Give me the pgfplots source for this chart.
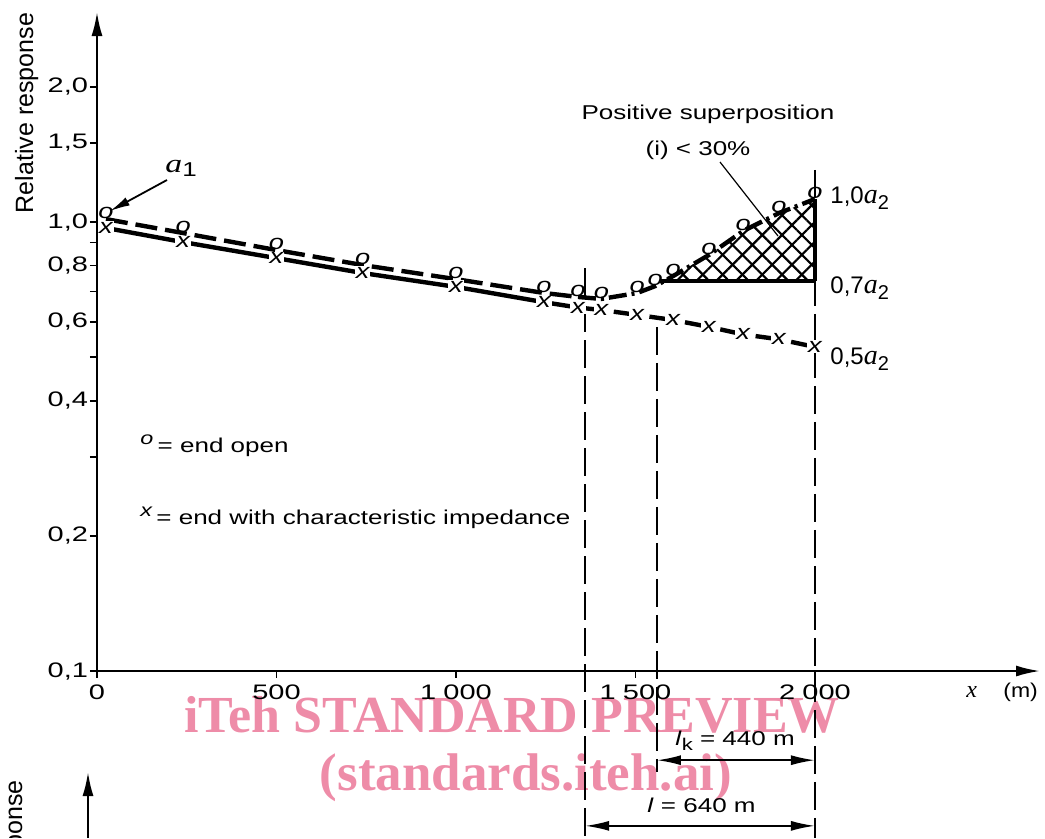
\documentclass[border=0pt]{standalone}
\usepackage{fontspec}
\setmainfont{Liberation Sans}
\newfontfamily\serif{Liberation Serif}
\usepackage{graphicx}
\usepackage{pgfplots}
\pgfplotsset{compat=1.18}
\usepackage{pgfplotstable}
\usetikzlibrary{arrows.meta,patterns.meta}
\definecolor{wm}{RGB}{238,140,168}
\newcommand\W[1]{\scalebox{1.3}[1]{#1}}
\newcommand\WT[1]{\scalebox{1.38}[1]{#1}}

\pgfplotstableread{
x y
25 1.015
240 0.945
500 0.866
740 0.802
1000 0.746
1245 0.695
1340 0.681
1405 0.674
1505 0.695
1555 0.72
1605 0.758
1705 0.845
1800 0.955
1900 1.047
2000 1.125
}\openend
\pgfplotstableread{
x y
25 0.97
240 0.902
500 0.831
740 0.77
1000 0.717
1245 0.663
1340 0.645
1405 0.637
1505 0.621
1605 0.605
1705 0.584
1800 0.562
1900 0.548
2000 0.527
}\charimp
\pgfplotstableread{
x y
1568 0.739
1605 0.758
1705 0.845
1800 0.955
1900 1.047
2000 1.125
2000 0.739
}\hatcharea

\begin{document}
\begin{tikzpicture}
\begin{scope}[x=0.5pt,y=-0.5pt]
\path[use as bounding box] (0,0) rectangle (1045,837);
\node[text=wm, inner sep=0pt, anchor=base, font=\serif\bfseries\fontsize{26}{28}\selectfont] at (512,732) {iTeh STANDARD PREVIEW};
\node[text=wm, inner sep=0pt, anchor=base, font=\serif\bfseries\fontsize{26.5}{28}\selectfont] at (526,790) {(standards.iteh.ai)};
\end{scope}

\begin{axis}[
  at={(48.5pt,-335.5pt)}, anchor=south west,
  scale only axis, width=471.5pt, height=329.5pt,
  xmin=0, xmax=2627, ymin=0.1, ymax=2.936, ymode=log, log basis y=10,
  axis lines=left,
  axis line style={line width=1.1pt, -{Latex[length=12pt,width=5.5pt]}},
  every tick/.style={black, line width=0.9pt},
  tick align=outside, major tick length=3.5pt,
  yminorticks=false, xminorticks=false,
  xtick={0,500,1000,1500,2000},
  xticklabels={{\WT{0}},{\WT{500}},{\WT{1\hspace{0.25em}000}},{\WT{1\hspace{0.25em}500}},{\WT{2\hspace{0.25em}000}}},
  ytick={0.1,0.2,0.4,0.6,0.8,1,1.5,2},
  yticklabels={{\WT{0,1}},{\WT{0,2}},{\WT{0,4}},{\WT{0,6}},{\WT{0,8}},{\WT{1,0}},{\WT{1,5}},{\WT{2,0}}},
  extra y ticks={0.3,0.5,0.7,0.9},
  extra y tick labels={},
  ticklabel style={font=\fontsize{10.5}{12}\selectfont},
  yticklabel style={inner xsep=0.8pt},
  clip=false,
]
% hatched area
\addplot[draw=none, pattern={Lines[angle=45,distance=7pt,line width=1.1pt]}] table {\hatcharea};
\addplot[draw=none, pattern={Lines[angle=-45,distance=7pt,line width=1.1pt]}] table {\hatcharea};
% curves
\addplot[line width=2.2pt, dash pattern=on 11pt off 4pt, restrict x to domain=0:1340] table {\openend};
\addplot[line width=2.2pt, dash pattern=on 9pt off 2.5pt on 1.5pt off 2.5pt, restrict x to domain=1340:2000] table {\openend};
\addplot[line width=2.2pt, restrict x to domain=0:1340] table {\charimp};
\addplot[line width=2.2pt, dash pattern=on 14pt off 4pt, restrict x to domain=1340:2000] table {\charimp};
\addplot[line width=2.2pt] coordinates {(1568,0.739) (2000,0.739)};
\addplot[line width=1.6pt] coordinates {(2000,0.739) (2000,1.125)};
% marks
\addplot[only marks, mark=text, text mark={\W{\itshape x}}, text mark as node=true,
  text mark style={font=\fontsize{10.5}{10}\selectfont, fill=white, inner sep=0.5pt}] table {\charimp};
\addplot[only marks, mark=text, text mark={\W{\itshape o}}, text mark as node=true,
  text mark style={font=\fontsize{10.5}{10}\selectfont, inner sep=0pt, yshift=3pt}] table {\openend};
% vertical guide lines
\draw[line width=1pt, dash pattern=on 14pt off 4pt] (axis cs:1360,0.79) -- (axis cs:1360,0.0425);
\draw[line width=1pt, dash pattern=on 14pt off 4pt] (axis cs:1560,0.584) -- (axis cs:1560,0.0596);
\draw[line width=1pt, dash pattern=on 14pt off 4pt] (axis cs:2000,1.306) -- (axis cs:2000,0.0425);
% dimension arrows
\draw[line width=0.9pt, {Latex[length=12pt,width=5pt]}-{Latex[length=12pt,width=5pt]}] (axis cs:1560,0.0633) -- (axis cs:2000,0.0633);
\draw[line width=0.9pt, {Latex[length=12pt,width=5pt]}-{Latex[length=12pt,width=5pt]}] (axis cs:1360,0.0452) -- (axis cs:2000,0.0452);
\end{axis}

\begin{scope}[x=0.5pt,y=-0.5pt, every node/.style={font=\fontsize{10}{12}\selectfont, inner sep=0pt}]
\node[rotate=90, anchor=base, font=\fontsize{12.5}{14}\selectfont] at (33,113) {Relative response};
\node[anchor=base] at (708,119) {\W{Positive superposition}};
\node[anchor=base] at (698,155) {\W{(i) < 30\%}};
\draw[line width=0.6pt] (720,162) -- (778,236);
\node[anchor=base west] at (165,172) {\W{{\serif\itshape\fontsize{13}{13}\selectfont a}\raisebox{-0.45ex}{\fontsize{10}{10}\selectfont 1}}};
\draw[line width=0.9pt, -{Latex[length=10pt,width=4.5pt]}] (167,180) -- (110,211);
\node[anchor=base west] at (830,203) {\fontsize{12}{12}\selectfont 1,0{\serif\itshape\fontsize{14}{14}\selectfont a}\raisebox{-0.5ex}{\fontsize{10}{10}\selectfont 2}};
\node[anchor=base west] at (830,293) {\fontsize{12}{12}\selectfont 0,7{\serif\itshape\fontsize{14}{14}\selectfont a}\raisebox{-0.5ex}{\fontsize{10}{10}\selectfont 2}};
\node[anchor=base west] at (830,364) {\fontsize{12}{12}\selectfont 0,5{\serif\itshape\fontsize{14}{14}\selectfont a}\raisebox{-0.5ex}{\fontsize{10}{10}\selectfont 2}};
\node[anchor=base west] at (140,452) {\W{\raisebox{0.7ex}{\fontsize{9}{9}\selectfont\itshape o}\,= end open}};
\node[anchor=base west] at (140,524) {\W{\raisebox{0.7ex}{\fontsize{9}{9}\selectfont\itshape x}\,= end with characteristic impedance}};
\node[anchor=base west] at (966,697) {\serif\itshape\fontsize{12}{12}\selectfont x};
\node[anchor=base west] at (1003,697) {\scalebox{1.15}[1]{(m)}};
\node[anchor=base west] at (675,745) {\W{\textit{l}\raisebox{-0.5ex}{\fontsize{8.5}{9}\selectfont k} = 440 m}};
\node[anchor=base west] at (647,812) {\W{\textit{l} = 640 m}};
\begin{scope}
\clip (0,0) rectangle (1045,837);
\node[rotate=90, anchor=base east, font=\fontsize{12.5}{14}\selectfont] at (22,780) {Relative response};
\draw[line width=1.1pt, -{Latex[length=12pt,width=5.5pt]}] (88,870) -- (88,772);
\end{scope}
\end{scope}
\end{tikzpicture}
\end{document}
